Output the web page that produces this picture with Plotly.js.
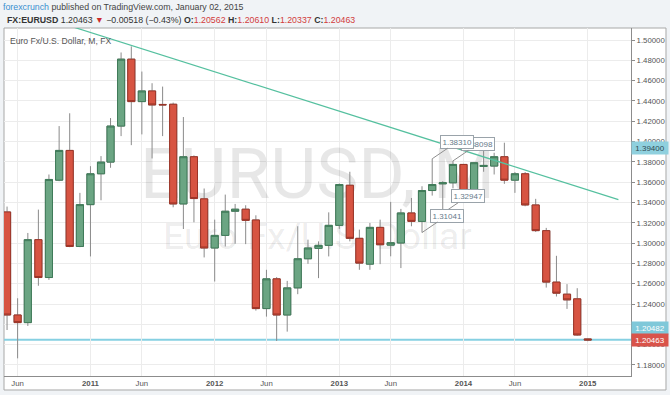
<!DOCTYPE html>
<html><head><meta charset="utf-8">
<script src="https://cdn.plot.ly/plotly-3.0.1.min.js"></script>
<style>html,body{margin:0;padding:0;background:#f0f3f6;} #chart{width:670px;height:395px;}</style>
</head><body><div id="chart"></div>
<script>
// ---- data (EUR/USD monthly) ----
var months = ['2010-05-01','2010-06-01','2010-07-01','2010-08-01','2010-09-01','2010-10-01','2010-11-01','2010-12-01',
  '2011-01-01','2011-02-01','2011-03-01','2011-04-01','2011-05-01','2011-06-01','2011-07-01','2011-08-01','2011-09-01','2011-10-01','2011-11-01','2011-12-01',
  '2012-01-01','2012-02-01','2012-03-01','2012-04-01','2012-05-01','2012-06-01','2012-07-01','2012-08-01','2012-09-01','2012-10-01','2012-11-01','2012-12-01',
  '2013-01-01','2013-02-01','2013-03-01','2013-04-01','2013-05-01','2013-06-01','2013-07-01','2013-08-01','2013-09-01','2013-10-01','2013-11-01','2013-12-01',
  '2014-01-01','2014-02-01','2014-03-01','2014-04-01','2014-05-01','2014-06-01','2014-07-01','2014-08-01','2014-09-01','2014-10-01','2014-11-01','2014-12-01',
  '2015-01-01'];
var openP = [1.3307,1.2292,1.2217,1.3034,1.2661,1.3620,1.3913,1.2967,
  1.3379,1.3683,1.3798,1.4153,1.4812,1.4394,1.4499,1.4366,1.4368,1.3386,1.3851,1.3436,
  1.2952,1.3076,1.3314,1.3334,1.3228,1.2355,1.2648,1.2292,1.2559,1.2846,1.2948,1.2978,
  1.3175,1.3570,1.3047,1.2793,1.3155,1.2980,1.3001,1.3297,1.3214,1.3518,1.3584,1.3594,
  1.3775,1.3490,1.3755,1.3759,1.3851,1.3620,1.3683,1.3376,1.3123,1.2616,1.2497,1.2451,
  1.20562];
var highP = [1.3360,1.2457,1.3100,1.3330,1.3676,1.4153,1.4279,1.3495,
  1.3758,1.3857,1.4232,1.4878,1.4938,1.4690,1.4575,1.4542,1.4384,1.4242,1.3864,1.3538,
  1.3231,1.3478,1.3386,1.3373,1.3274,1.2737,1.2665,1.2628,1.3166,1.3034,1.3017,1.3303,
  1.3587,1.3703,1.3133,1.3199,1.3231,1.3406,1.3337,1.3445,1.3560,1.3831,1.3610,1.3810,
  1.3780,1.3800,1.3914,1.3890,1.3989,1.3700,1.3700,1.3436,1.3150,1.2875,1.2596,1.2556,
  1.20610];
var lowP = [1.2144,1.1865,1.2184,1.2580,1.2638,1.3610,1.2960,1.2960,
  1.2869,1.3422,1.3742,1.4054,1.3965,1.4071,1.3834,1.4054,1.3353,1.3139,1.3205,1.2859,
  1.2622,1.2967,1.2994,1.2990,1.2335,1.2276,1.2036,1.2128,1.2497,1.2796,1.2655,1.2869,
  1.3140,1.3017,1.2737,1.2737,1.2793,1.2870,1.2754,1.3166,1.3104,1.3468,1.3295,1.3540,
  1.3458,1.3480,1.3703,1.3676,1.3584,1.3495,1.3363,1.3110,1.2562,1.2474,1.2352,1.2088,
  1.20337];
var closeP = [1.2292,1.2217,1.3034,1.2661,1.3627,1.3913,1.2967,1.3379,
  1.3683,1.3798,1.4153,1.4812,1.4394,1.4499,1.4361,1.4362,1.3386,1.3851,1.3439,1.2952,
  1.3076,1.3314,1.3334,1.3224,1.2355,1.2648,1.2292,1.2559,1.2846,1.2952,1.2978,1.3175,
  1.3577,1.3047,1.2803,1.3155,1.2984,1.3004,1.3297,1.3214,1.3518,1.3577,1.3594,1.3775,
  1.3490,1.3792,1.3765,1.3851,1.3620,1.3683,1.3376,1.3123,1.2616,1.2507,1.2441,1.2095,
  1.20463];

// x-axis tick labels
var tickDates = ['2010-06-01','2011-01-01','2011-06-01','2012-01-01','2012-06-01','2013-01-01','2013-06-01','2014-01-01','2014-06-01','2015-01-01'];
var tickLabels = ['Jun','2011','Jun','2012','Jun','2013','Jun','2014','Jun','2015'];

// drawings
var trendDates = ['2010-06-01','2015-04-01'];
var trendPrices = [1.5302, 1.3429];
var hLinePrice = 1.20482;
var markerPrice = 1.39400;
var calloutDates = ['2013-12-01','2013-10-01','2013-11-01','2013-09-01'];
var calloutPrices = [1.38098, 1.38310, 1.32947, 1.31041];

// header numbers
var symbol = 'FX:EURUSD';
var change = '\u22120.00518';
var changePct = '\u22120.43%';

// ---- chart ----
var xRange = ['2010-04-22','2015-05-08'];
var yRange = [1.1691, 1.5119];
var n = months.length;
var last = n - 1;
var bodyHigh = [], bodyLow = [];
for (var i = 0; i < n; i++) { bodyHigh.push(Math.max(openP[i], closeP[i])); bodyLow.push(Math.min(openP[i], closeP[i])); }

var xMid = (Date.parse(xRange[0]) + Date.parse(xRange[1])) / 2;
function yAtFrac(f) { return yRange[0] + f * (yRange[1] - yRange[0]); }
var fmt = function (v) { return v.toFixed(5); };

var traces = [
  { type: 'scatter', mode: 'text', x: [xMid], y: [yAtFrac(0.563)], text: ['EURUSD, M'],
    textposition: 'middle center', textfont: { family: 'Roboto, Arial', size: 71, color: 'rgba(0,0,0,0.095)' },
    hoverinfo: 'skip', showlegend: false, cliponaxis: false },
  { type: 'scatter', mode: 'text', x: [xMid], y: [yAtFrac(0.392)], text: ['Euro Fx/U.S. Dollar'],
    textposition: 'middle center', textfont: { family: 'Roboto, Arial', size: 37, color: 'rgba(0,0,0,0.085)' },
    hoverinfo: 'skip', showlegend: false, cliponaxis: false },
  { type: 'candlestick', xaxis: 'x2', yaxis: 'y2', x: months, open: openP, high: highP, low: lowP, close: closeP,
    increasing: { line: { color: '#8a8a8a', width: 1 }, fillcolor: 'rgba(0,0,0,0)' },
    decreasing: { line: { color: '#8a8a8a', width: 1 }, fillcolor: 'rgba(0,0,0,0)' },
    whiskerwidth: 0, hoverinfo: 'skip', showlegend: false },
  { type: 'candlestick', xaxis: 'x2', yaxis: 'y2', x: months, open: openP, high: bodyHigh, low: bodyLow, close: closeP,
    increasing: { line: { color: '#3f7b59', width: 1 }, fillcolor: '#6ba583' },
    decreasing: { line: { color: '#9c3427', width: 1 }, fillcolor: '#d75442' },
    whiskerwidth: 0, hoverinfo: 'skip', showlegend: false },
  { type: 'scatter', mode: 'lines', xaxis: 'x2', yaxis: 'y2', x: trendDates, y: trendPrices,
    line: { color: '#55c09f', width: 1.2 }, hoverinfo: 'skip', showlegend: false }
];

var small = 'Liberation Sans, Arial, sans-serif';
var annotations = [
  { xref: 'paper', yref: 'paper', x: -0.004, y: 1.0603, xanchor: 'left', yanchor: 'middle', showarrow: false,
    text: '<span style="color:#3a8fd0">forexcrunch</span> published on TradingView.com, January 02, 2015',
    font: { family: small, size: 8.8, color: '#444' } },
  { xref: 'paper', yref: 'paper', x: 0.001, y: 1.023, xanchor: 'left', yanchor: 'middle', showarrow: false,
    text: '<b>' + symbol + '</b> ' + fmt(closeP[last]) + ' <span style="color:#cc2b2b">\u25BC</span> ' + change + ' (' + changePct + ') ' +
      '<b>O:</b><span style="color:#d23c3c">' + fmt(openP[last]) + '</span> ' +
      '<b>H:</b><span style="color:#d23c3c">' + fmt(highP[last]) + '</span> ' +
      '<b>L:</b><span style="color:#d23c3c">' + fmt(lowP[last]) + '</span> ' +
      '<b>C:</b><span style="color:#d23c3c">' + fmt(closeP[last]) + '</span>',
    font: { family: small, size: 8.8, color: '#333' } },
  { xref: 'paper', yref: 'paper', x: 0.007, y: 0.9626, xanchor: 'left', yanchor: 'middle', showarrow: false,
    text: 'Euro Fx/U.S. Dollar, M, FX', font: { family: small, size: 8.6, color: '#555' } }
];
for (var k = 0; k < calloutDates.length; k++) {
  annotations.push({ xref: 'x', yref: 'y', x: calloutDates[k], y: calloutPrices[k], text: fmt(calloutPrices[k]),
    showarrow: true, arrowhead: 0, arrowwidth: 1, arrowcolor: '#8f8f8f', ax: 25, ay: -17,
    bgcolor: '#ffffff', bordercolor: '#9aa3aa', borderwidth: 1, borderpad: 1.5,
    font: { family: small, size: 8, color: '#66798a' } });
}
annotations.push({ xref: 'paper', yref: 'y', x: 1, y: markerPrice, xanchor: 'left', yanchor: 'middle', showarrow: false,
  text: fmt(markerPrice), bgcolor: '#8fd0de', width: 34, height: 10, borderpad: 1, font: { family: small, size: 8, color: '#2f4a52' } });
annotations.push({ xref: 'paper', yref: 'y', x: 1, y: hLinePrice, yshift: 12, xanchor: 'left', yanchor: 'middle', showarrow: false,
  text: fmt(hLinePrice), bgcolor: '#7fc8d9', width: 34, height: 10, borderpad: 1, font: { family: small, size: 8, color: '#ffffff' } });
annotations.push({ xref: 'paper', yref: 'y', x: 1, y: closeP[last], xanchor: 'left', yanchor: 'middle', showarrow: false,
  text: fmt(closeP[last]), bgcolor: '#d9534a', width: 34, height: 10, borderpad: 1, font: { family: small, size: 8, color: '#ffffff' } });

var tickText = tickLabels.map(function (t) { return t === 'Jun' ? t : '<b>' + t + '</b>'; });

var layout = {
  width: 670, height: 395,
  margin: { l: 4, r: 39, t: 28, b: 19, pad: 0 },
  paper_bgcolor: '#f0f3f6', plot_bgcolor: '#ffffff',
  showlegend: false,
  boxgap: 0.25, boxgroupgap: 0, boxmode: 'overlay',
  font: { family: small },
  xaxis: { type: 'date', range: xRange, fixedrange: true, rangeslider: { visible: false },
    tickmode: 'array', tickvals: tickDates, ticktext: tickText, ticks: '',
    showgrid: true, gridcolor: '#ececec', gridwidth: 1, showline: true, linecolor: '#8c8c8c', linewidth: 1,
    tickfont: { family: small, size: 7.8, color: '#555' }, zeroline: false },
  yaxis: { side: 'right', range: yRange, fixedrange: true, tick0: 1.18, dtick: 0.02, tickformat: '.5f',
    showgrid: true, gridcolor: '#ececec', gridwidth: 1, showline: true, linecolor: '#8c8c8c', linewidth: 1,
    ticks: 'outside', ticklen: 3, tickcolor: '#8c8c8c', tickfont: { family: small, size: 7.8, color: '#555' }, zeroline: false },
  xaxis2: { type: 'date', overlaying: 'x', range: xRange, visible: false, fixedrange: true, rangeslider: { visible: false } },
  yaxis2: { overlaying: 'y', side: 'right', range: yRange, visible: false, fixedrange: true },
  shapes: [
    { type: 'rect', xref: 'paper', yref: 'paper', x0: 0, x1: 1.0558, y0: -0.0402, y1: 1, layer: 'below',
      fillcolor: '#ffffff', line: { color: '#a8a8a8', width: 1 } },
    { type: 'line', xref: 'paper', yref: 'y', x0: 0, x1: 1, y0: hLinePrice, y1: hLinePrice, layer: 'below',
      line: { color: '#86d0e2', width: 2 } }
  ],
  annotations: annotations
};

Plotly.newPlot('chart', traces, layout, { displayModeBar: false, staticPlot: true });
</script></body></html>
